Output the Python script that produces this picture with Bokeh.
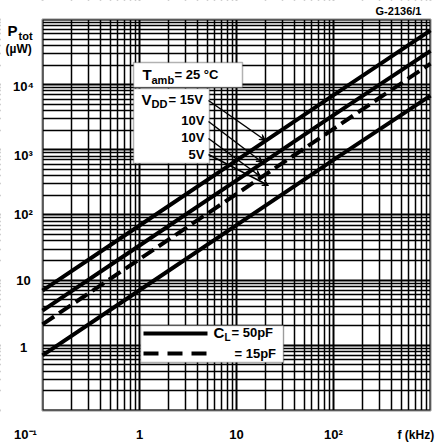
from bokeh.plotting import figure
from bokeh.models import FixedTicker, Label, Arrow, VeeHead, BoxAnnotation, Grid
from bokeh.core.properties import value
from bokeh.embed import file_html
from bokeh.resources import INLINE

# ---- data ----
freq_khz = [0.1, 1, 10, 100, 1000]
p_15v_50pf = [6.9, 69, 690, 6900, 68000]
p_10v_50pf = [3.4, 34, 340, 3400, 33000]
p_10v_15pf = [2.1, 21, 210, 2100, 21000]
p_5v_50pf = [0.7, 7, 70, 700, 6800]

x_decades = [0.1, 1, 10, 100, 1000]
y_decades = [0.1, 1, 10, 100, 1000, 10000, 100000]
x_tick_vals = [0.1, 1, 10, 100]
x_tick_text = ["10⁻¹", "1", "10", "10²"]
y_tick_vals = [1, 10, 100, 1000, 10000]
y_tick_text = ["1", "10", "10²", "10³", "10⁴"]

def minors(decades):
    out = []
    for d in decades[:-1]:
        for m in range(2, 10):
            out.append(d * m)
    return out

FONT = "Liberation Sans"
W, H = 440, 444

# page-pixel helpers for annotation placement (chart box: x 42..430, y 19..410)
def X(px):
    return 0.1 * 10 ** ((px - 42) / 97.0)

def Y(py):
    return 0.1 * 10 ** ((410 - py) / 65.17)

p = figure(width=W, height=H, x_axis_type="log", y_axis_type="log",
           x_range=(X(0), X(W)), y_range=(Y(H), Y(0)),
           x_axis_location=None, y_axis_location=None,
           output_backend="svg", toolbar_location=None, min_border=0)
p.background_fill_color = "white"
p.border_fill_color = "white"
p.outline_line_color = None

for dim, dec in ((0, x_decades), (1, y_decades)):
    g = Grid(dimension=dim, ticker=FixedTicker(ticks=dec, minor_ticks=minors(dec)),
             grid_line_color="black", grid_line_width=2,
             minor_grid_line_color="black", minor_grid_line_width=1.5)
    p.add_layout(g)

# white masks outside the chart box
for kw in (dict(right=0.1), dict(left=1000), dict(top=0.1), dict(bottom=100000)):
    p.add_layout(BoxAnnotation(fill_color="white", fill_alpha=1, line_color=None,
                               level="underlay", **kw))

# white boxes behind annotations
for (l, r, t, b) in ((133, 242, 62, 87), (133, 209, 88, 163), (140, 283, 325, 362)):
    p.add_layout(BoxAnnotation(left=X(l), right=X(r), top=Y(t), bottom=Y(b),
                               fill_color="white", fill_alpha=1, line_color="black",
                               line_width=1.5, level="underlay"))

# chart frame
p.add_layout(BoxAnnotation(left=0.1, right=1000, bottom=0.1, top=100000,
                           fill_alpha=0, line_color="black", line_width=2.5))

# curves
p.line(freq_khz, p_15v_50pf, line_color="black", line_width=4)
p.line(freq_khz, p_10v_50pf, line_color="black", line_width=4)
p.line(freq_khz, p_10v_15pf, line_color="black", line_width=4, line_dash="14 6")
p.line(freq_khz, p_5v_50pf, line_color="black", line_width=4)

# tick labels
p.text(x=x_tick_vals, y=[Y(434)] * len(x_tick_vals), text=x_tick_text,
       x_offset=[-17, 0, 0, 0], text_font=value(FONT), text_font_style="bold",
       text_font_size="13px", text_align="center", text_baseline="middle", text_color="black")
p.text(x=[0.1] * len(y_tick_vals), y=y_tick_vals, text=y_tick_text,
       x_offset=-19, y_offset=[2, 0, 0, 6, 2], text_font=value(FONT), text_font_style="bold",
       text_font_size="13px", text_align="center", text_baseline="middle", text_color="black")

def lab(px, py, text, size="13px", align="left", baseline="middle"):
    p.add_layout(Label(x=X(px), y=Y(py), text=text, text_font=FONT, text_font_style="bold",
                       text_font_size=size, text_align=align, text_baseline=baseline,
                       text_color="black"))

# annotations
lab(142, 74, "T", "15px")
lab(151, 79, "amb", "11px")
lab(174, 74, "= 25 °C", "13px")
lab(141, 99, "V", "15px")
lab(151, 103, "DD", "11px")
lab(168, 99, "= 15V", "13px")
lab(204, 120, "10V", "13px", "right")
lab(204, 137, "10V", "13px", "right")
lab(204, 154, "5V", "13px", "right")

for (x0, y0, x1, y1) in ((208, 100, 265, 140), (208, 121, 262, 162), (208, 138, 260, 176), (208, 154, 268, 185)):
    p.add_layout(Arrow(x_start=X(x0), y_start=Y(y0), x_end=X(x1), y_end=Y(y1),
                       line_color="black", line_width=1.5,
                       end=VeeHead(size=6, fill_color="black", line_color="black")))

# legend
p.line([X(143), X(207)], [Y(333), Y(333)], line_color="black", line_width=4)
p.line([X(143), X(207)], [Y(353), Y(353)], line_color="black", line_width=4, line_dash="15 9")
lab(213, 332, "C", "15px")
lab(224, 337, "L", "10px")
lab(231, 332, "= 50pF", "13px")
lab(234, 353, "= 15pF", "13px")

# outside texts
lab(417, 434, "f  (kHz)", "12px", "center")
lab(7, 30, "P", "15px")
lab(18, 35, "tot", "11px")
lab(5, 48, "(µW)", "12px")
lab(398, 10, "G-2136/1", "11px", "center")

open("out.html", "w").write(file_html(p, INLINE))
